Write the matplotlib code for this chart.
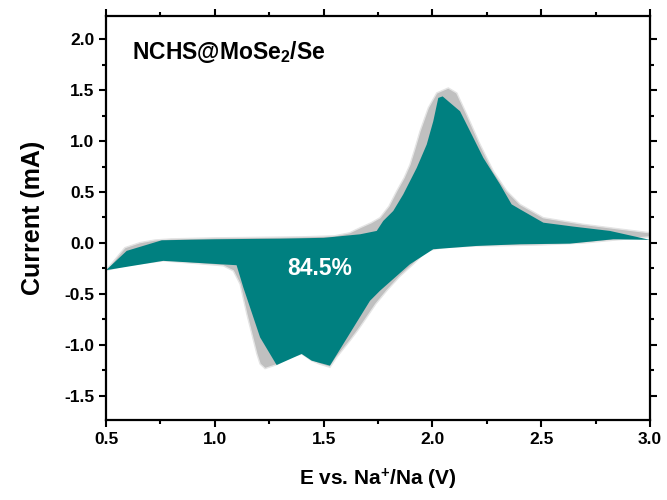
import matplotlib
matplotlib.use("Agg")
import matplotlib.pyplot as plt
from matplotlib.ticker import MultipleLocator

plt.rcParams['font.family'] = ['Liberation Sans', 'DejaVu Sans']
plt.rcParams['font.weight'] = 'bold'
plt.rcParams['axes.unicode_minus'] = False
plt.rcParams['mathtext.fontset'] = 'custom'
plt.rcParams['mathtext.rm'] = 'Liberation Sans:bold'
plt.rcParams['mathtext.default'] = 'rm'

# total CV current, anodic sweep (0.5 -> 3.0 V)
total_ox_v = [0.50, 0.55, 0.587, 0.656, 0.725, 0.80, 1.00, 1.20, 1.40, 1.55, 1.62,
              1.668, 1.72, 1.759, 1.80, 1.836, 1.87, 1.897, 1.92, 1.943, 1.981,
              2.02, 2.073, 2.112, 2.158, 2.219, 2.28, 2.342, 2.403, 2.51, 2.694,
              2.85, 3.0]
total_ox_i = [-0.27, -0.14, -0.046, 0.003, 0.029, 0.04, 0.05, 0.055, 0.06, 0.07, 0.10,
              0.15, 0.20, 0.248, 0.36, 0.51, 0.64, 0.771, 0.93, 1.098, 1.327,
              1.474, 1.523, 1.474, 1.262, 0.968, 0.706, 0.51, 0.379, 0.248, 0.183,
              0.14, 0.10]
# total CV current, cathodic sweep (3.0 -> 0.5 V)
total_red_v = [3.0, 2.85, 2.70, 2.50, 2.30, 2.204, 2.10, 2.05, 1.974, 1.912, 1.85,
               1.79, 1.74, 1.698, 1.66, 1.621, 1.56, 1.529, 1.48, 1.445, 1.40,
               1.35, 1.28, 1.231, 1.208, 1.193, 1.147, 1.116, 1.085, 1.039, 0.90,
               0.763, 0.60, 0.50]
total_red_i = [0.06, 0.03, 0.0, -0.02, -0.028, -0.03, -0.04, -0.046, -0.078, -0.209, -0.33,
               -0.47, -0.60, -0.732, -0.85, -0.961, -1.124, -1.222, -1.19, -1.157, -1.091,
               -1.12, -1.20, -1.235, -1.19, -1.09, -0.699, -0.405, -0.275, -0.225, -0.20,
               -0.176, -0.22, -0.27]

# capacitive contribution
cap_ox_v = [0.50, 0.595, 0.756, 1.00, 1.30, 1.50, 1.668, 1.744, 1.774, 1.82, 1.866,
            1.928, 1.974, 2.004, 2.027, 2.047, 2.073, 2.127, 2.173, 2.234, 2.311,
            2.364, 2.403, 2.51, 2.65, 2.816, 3.0]
cap_ox_i = [-0.268, -0.078, 0.026, 0.036, 0.042, 0.05, 0.085, 0.118, 0.216, 0.314, 0.477,
            0.738, 0.968, 1.196, 1.425, 1.44, 1.392, 1.294, 1.098, 0.836, 0.575,
            0.379, 0.33, 0.199, 0.16, 0.118, 0.03]
cap_red_v = [3.0, 2.831, 2.632, 2.403, 2.20, 2.004, 1.897, 1.759, 1.713, 1.529, 1.445,
             1.399, 1.284, 1.208, 1.131, 1.10, 0.763, 0.50]
cap_red_i = [0.03, 0.036, -0.007, -0.013, -0.03, -0.062, -0.209, -0.47, -0.569, -1.206, -1.157,
             -1.091, -1.20, -0.928, -0.438, -0.219, -0.176, -0.268]

cap_ratio = 84.5

fig = plt.figure(figsize=(6.67, 5.0), dpi=100)
ax = fig.add_axes([0.159, 0.16, 0.8155, 0.808])

ax.fill(total_ox_v + total_red_v, total_ox_i + total_red_i,
        facecolor='#c0c0c0', edgecolor='#e4e4e4', linewidth=1.0)
ax.fill(cap_ox_v + cap_red_v, cap_ox_i + cap_red_i,
        facecolor='#008080', edgecolor='none')

ax.text(0.62, 1.88, 'NCHS@MoSe$_2$/Se', fontsize=16.5, fontweight='bold',
        ha='left', va='center')
ax.text(1.483, -0.25, '{:.1f}%'.format(cap_ratio), fontsize=16.5, fontweight='bold',
        color='white', ha='center', va='center')

ax.set_xlim(0.5, 3.0)
ax.set_ylim(-1.74, 2.23)
ax.xaxis.set_major_locator(MultipleLocator(0.5))
ax.xaxis.set_minor_locator(MultipleLocator(0.25))
ax.yaxis.set_major_locator(MultipleLocator(0.5))
ax.yaxis.set_minor_locator(MultipleLocator(0.25))
ax.tick_params(which='both', direction='out', top=True, right=True, width=1.5,
               labelsize=12.5)
ax.tick_params(which='major', length=5)
ax.tick_params(which='minor', length=3)
ax.tick_params(top=True, right=True, labeltop=False, labelright=False)
for s in ax.spines.values():
    s.set_linewidth(1.6)

ax.set_xlabel('E vs. Na$^{+}$/Na (V)', fontsize=15, fontweight='bold', labelpad=14)
ax.set_ylabel('Current (mA)', fontsize=18, fontweight='bold', labelpad=14)

plt.savefig('out.png', dpi=100)
